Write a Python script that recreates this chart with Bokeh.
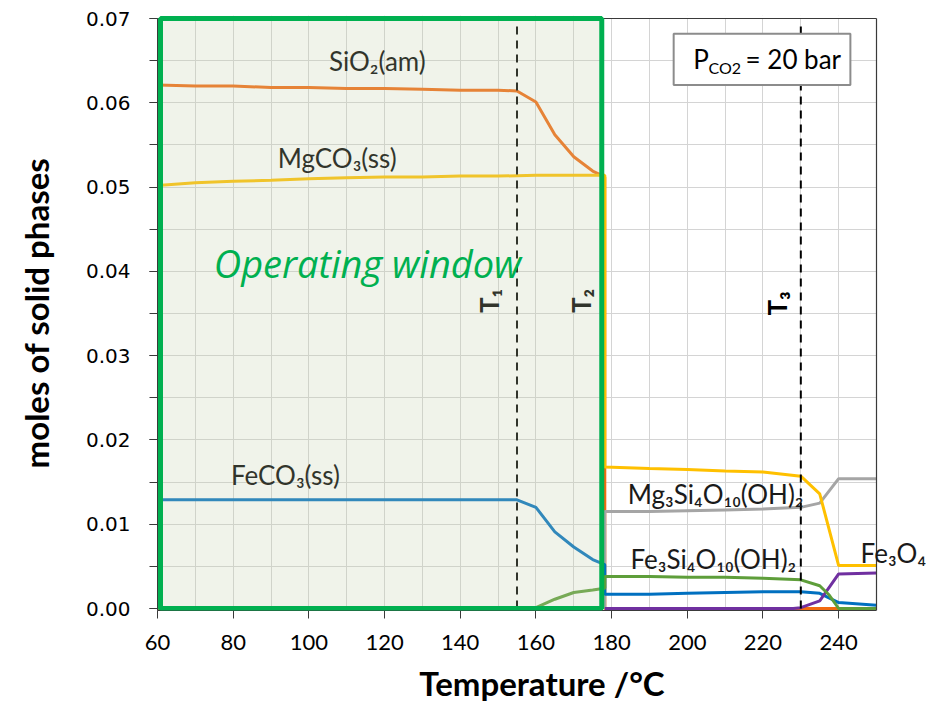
import math
from bokeh.plotting import figure
from bokeh.models import SingleIntervalTicker, NumeralTickFormatter, BoxAnnotation, Label
from bokeh.core.properties import value
from bokeh.embed import file_html
from bokeh.resources import INLINE

# ---------------- data ----------------
sio2_T = [60, 70, 80, 90, 100, 110, 120, 130, 140, 150, 155, 160, 165, 170, 175, 178.2, 178.2, 250]
sio2 = [0.0621, 0.0620, 0.0620, 0.0618, 0.0618, 0.0617, 0.0617, 0.0616, 0.0615, 0.0615, 0.0614,
        0.0601, 0.0562, 0.0536, 0.0519, 0.0512, 0.0, 0.0]

mgco3_T = [60, 70, 80, 90, 100, 110, 120, 130, 140, 150, 160, 170, 178.2, 178.2, 190, 200, 210,
           220, 230, 235, 240, 250]
mgco3 = [0.0502, 0.0505, 0.0507, 0.0508, 0.0510, 0.0511, 0.0512, 0.0512, 0.0513, 0.0513, 0.0514,
         0.0514, 0.0514, 0.0168, 0.0166, 0.0165, 0.0163, 0.0162, 0.0157, 0.0136, 0.0051, 0.0051]

feco3_T = [60, 70, 80, 90, 100, 110, 120, 130, 140, 150, 155, 160, 165, 170, 175, 178.2, 178.2,
           190, 200, 210, 220, 230, 235, 240, 250]
feco3 = [0.0129, 0.0129, 0.0129, 0.0129, 0.0129, 0.0129, 0.0129, 0.0129, 0.0129, 0.0129, 0.0129,
         0.0120, 0.0091, 0.0073, 0.0058, 0.0052, 0.0017, 0.0017, 0.0018, 0.0019, 0.0020, 0.0020,
         0.0018, 0.0007, 0.0004]

talc_T = [178.2, 178.2, 190, 200, 210, 220, 230, 235, 240, 250]
talc = [0.0, 0.0115, 0.0115, 0.0116, 0.0117, 0.0118, 0.0120, 0.0125, 0.0154, 0.0154]

minn_T = [60, 155, 160, 165, 170, 175, 178.2, 178.2, 190, 200, 210, 220, 230, 235, 237.5, 240, 250]
minn = [0.0, 0.0, 0.0001, 0.0011, 0.0019, 0.0022, 0.0024, 0.0038, 0.0038, 0.0037, 0.0037, 0.0036,
        0.0034, 0.0027, 0.0016, 0.0, 0.0]

magn_T = [178.2, 190, 200, 210, 220, 228, 230, 235, 240, 250]
magn = [0.0, 0.0, 0.0, 0.0, 0.0, 0.0, 0.0001, 0.0009, 0.0041, 0.0042]

t_marks = [155, 230]          # T1, T3 dashed lines
window_T = [60.8, 177.4]      # operating window (T range)
T_MIN, T_MAX = 60, 250
Y_MIN, Y_MAX = 0.0, 0.07

# ---------------- layout constants ----------------
W, H = 926, 707
FRAME_L, FRAME_R_REF, FRAME_T_REF, FRAME_B_REF = 157, 876, 18, 608
PAD_TOP, PAD_BOT = 3, 2        # px of frame beyond the plot box, so edge strokes are not cut
px_per_unit = (FRAME_R_REF - FRAME_L) / (T_MAX - T_MIN)
px_per_y = (FRAME_B_REF - FRAME_T_REF) / (Y_MAX - Y_MIN)
x_end = T_MIN + (W - FRAME_L) / px_per_unit   # frame extended so a label can overhang
y_lo = Y_MIN - PAD_BOT / px_per_y
y_hi = Y_MAX + PAD_TOP / px_per_y

p = figure(width=W, height=H, x_range=(T_MIN, x_end), y_range=(y_lo, y_hi),
           output_backend="svg", toolbar_location=None,
           min_border_left=FRAME_L, min_border_right=0,
           min_border_top=FRAME_T_REF - PAD_TOP,
           min_border_bottom=H - FRAME_B_REF - PAD_BOT)
p.background_fill_color = "white"
p.border_fill_color = "white"
p.outline_line_color = None

# axes
p.xaxis.ticker = SingleIntervalTicker(interval=20, num_minor_ticks=2)
p.xaxis.bounds = (T_MIN, T_MAX)
p.yaxis.ticker = SingleIntervalTicker(interval=0.01, num_minor_ticks=2)
p.yaxis.bounds = (y_lo, Y_MAX)
p.yaxis.formatter = NumeralTickFormatter(format="0.00")

p.xaxis.axis_label = "Temperature /°C"
p.yaxis.axis_label = "moles of solid phases"
for ax in (p.xaxis[0], p.yaxis[0]):
    ax.axis_line_color = "#3a3a3a"
    ax.major_tick_line_color = "#3a3a3a"
    ax.minor_tick_line_color = "#3a3a3a"
    ax.major_tick_out = 8
    ax.major_tick_in = 0
    ax.axis_label_text_font = "Lato"
    ax.axis_label_text_font_style = "bold"
    ax.axis_label_text_font_size = "33px"
    ax.axis_label_text_color = "black"
    ax.major_label_text_color = "black"

p.xaxis.minor_tick_out = 0
p.xaxis.minor_tick_in = 0
p.yaxis.minor_tick_out = 8
p.yaxis.minor_tick_in = 0
p.xaxis.major_label_text_font = "Lato"
p.xaxis.major_label_text_font_size = "22px"
p.xaxis.major_label_standoff = 16
p.xaxis.axis_label_standoff = 10
p.yaxis.major_label_text_font = "DejaVu Sans"
p.yaxis.major_label_text_font_size = "20px"
p.yaxis.major_label_standoff = 19
p.yaxis.axis_label_standoff = 27

# grid
for g in (p.xgrid[0], p.ygrid[0]):
    g.grid_line_color = "#d4d4d4"
    g.grid_line_width = 1
    g.minor_grid_line_color = "#d4d4d4"
    g.minor_grid_line_width = 1

# ---------------- lines ----------------
LW = 3
p.line(sio2_T, sio2, line_color="#F26A10", line_width=LW)
p.line(talc_T, talc, line_color="#A5A5A5", line_width=LW)
p.line(mgco3_T, mgco3, line_color="#FFC000", line_width=LW)
p.line(feco3_T, feco3, line_color="#0070C0", line_width=LW)
p.line(magn_T, magn, line_color="#7030A0", line_width=LW)
p.line(minn_T, minn, line_color="#5E9E3A", line_width=LW)

# dashed temperature markers
p.segment(x0=t_marks, y0=[0, 0], x1=t_marks, y1=[0.0694, 0.0692],
          line_color="black", line_width=2, line_dash="8 6")

# mask the area outside the plot box and draw its border
p.quad(left=[T_MAX], right=[x_end + 5], bottom=[y_lo - 0.01], top=[y_hi + 0.01],
       fill_color="white", line_color=None)
p.quad(left=[T_MIN - 5], right=[x_end + 5], bottom=[Y_MAX], top=[y_hi + 0.01],
       fill_color="white", line_color=None)
p.segment(x0=[T_MAX, T_MIN], y0=[y_lo, Y_MAX], x1=[T_MAX, T_MAX], y1=[Y_MAX, Y_MAX],
          line_color="#3a3a3a", line_width=1.2)

# ---------------- labels ----------------
lab_font = value("Lato")
p.text(x=[118.1], y=[0.0650], text=["SiO₂(am)"], text_font=lab_font, text_font_size="26px",
       text_align="center", text_baseline="middle", text_color="black")
p.text(x=[107.5], y=[0.0534], text=["MgCO₃(ss)"], text_font=lab_font, text_font_size="26px",
       text_align="center", text_baseline="middle", text_color="black")
p.text(x=[93.8], y=[0.0158], text=["FeCO₃(ss)"], text_font=lab_font, text_font_size="26px",
       text_align="center", text_baseline="middle", text_color="black")
p.text(x=[207.5], y=[0.0136], text=["Mg₃Si₄O₁₀(OH)₂"], text_font=lab_font, text_font_size="26px",
       text_align="center", text_baseline="middle", text_color="#1a1a1a")
p.text(x=[206.9], y=[0.0059], text=["Fe₃Si₄O₁₀(OH)₂"], text_font=lab_font, text_font_size="26px",
       text_align="center", text_baseline="middle", text_color="#1a1a1a")
p.text(x=[245.8], y=[0.00653], text=["Fe₃O₄"], text_font=lab_font, text_font_size="26px",
       text_align="left", text_baseline="middle", text_color="#1a1a1a")

# T labels (rotated)
p.text(x=[147.5, 171.8, 223.8], y=[0.0365, 0.0365, 0.0362], text=["T₁", "T₂", "T₃"],
       text_font=lab_font, text_font_size="26px", text_font_style="bold",
       angle=math.pi / 2, text_align="center", text_baseline="middle", text_color="black")

# ---------------- operating window (semi-transparent overlay) ----------------
box = BoxAnnotation(left=window_T[0], right=window_T[1], bottom=Y_MIN, top=Y_MAX,
                    fill_color="#c3cfab", fill_alpha=0.25,
                    line_color="#00B050", line_width=5, line_alpha=1.0)
p.add_layout(box)

p.add_layout(Label(x=115.5, y=0.0410, text="Operating window", text_font="Open Sans",
                   text_font_style="italic", text_font_size="38px", text_color="#00B050",
                   text_align="center", text_baseline="middle"))

# pressure box
p.quad(left=[196.4], right=[243.1], bottom=[0.0621], top=[0.0682],
       fill_color="white", line_color="#8c8c8c", line_width=2)
p.add_layout(Label(x=201.6, y=0.0652, text="P", text_font="Lato", text_font_size="26px",
                   text_color="black", text_align="left", text_baseline="middle"))
p.add_layout(Label(x=205.6, y=0.0642, text="CO2", text_font="Lato", text_font_size="16px",
                   text_color="black", text_align="left", text_baseline="middle"))
p.add_layout(Label(x=215.4, y=0.0652, text="= 20 bar", text_font="Lato", text_font_size="26px",
                   text_color="black", text_align="left", text_baseline="middle"))

open("out.html", "w").write(file_html(p, INLINE))
